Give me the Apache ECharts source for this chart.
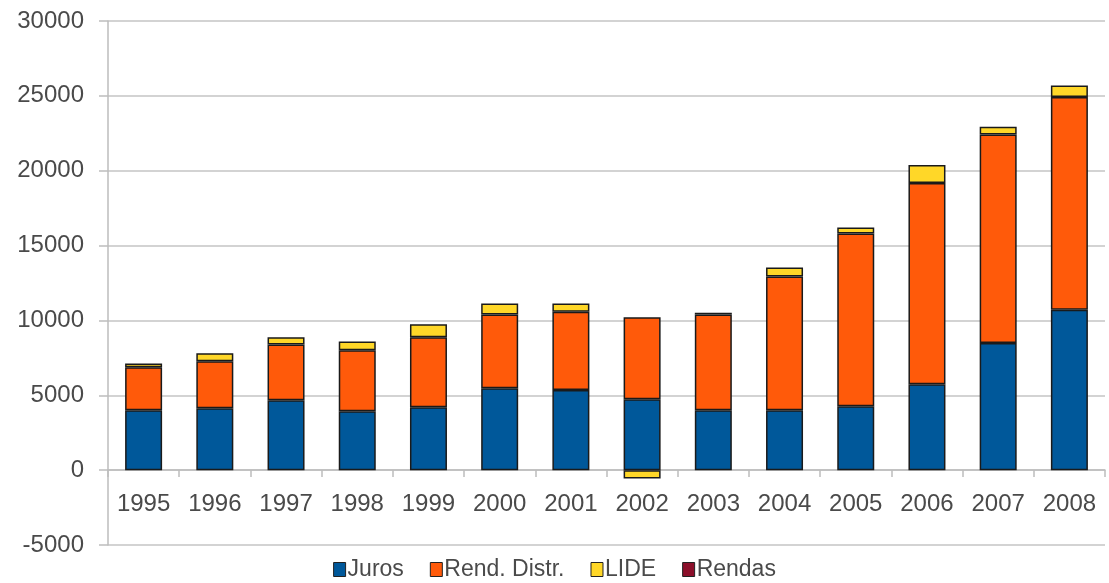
<!DOCTYPE html>
<html>
<head>
<meta charset="utf-8">
<script src="https://cdn.jsdelivr.net/npm/echarts@6/dist/echarts.min.js"></script>
<style>
  html, body { margin: 0; padding: 0; background: #fff; }
  #chart { width: 1109px; height: 583px; }
</style>
</head>
<body>
<div id="chart"></div>
<script>
// data
var years = ['1995','1996','1997','1998','1999','2000','2001','2002','2003','2004','2005','2006','2007','2008'];
var juros = [4000, 4130, 4670, 3930, 4200, 5470, 5350, 4730, 4000, 4000, 4270, 5730, 8490, 10710];
var rendDistr = [2870, 3140, 3730, 4070, 4670, 4930, 5230, 5490, 6400, 8930, 11530, 13450, 13930, 14220];
var lide = [260, 530, 470, 600, 870, 730, 550, -550, null, 600, 400, 1200, 510, 760];
var rendas = [null, null, null, null, null, null, null, null, 110, null, null, null, null, null];

var myChart = echarts.init(document.getElementById('chart'));

function barSeries (name, data, color) {
    return {
        name: name,
        type: 'bar',
        stack: 'total',
        barWidth: 37,
        data: data,
        itemStyle: {
            color: color,
            borderColor: '#1a1a1a',
            borderWidth: 1.5
        }
    };
}

var option = {
    animation: false,
    textStyle: { fontFamily: 'Liberation Sans, Arial, sans-serif' },
    color: ['#00589a', '#ff5a0a', '#ffd728', '#8b0f2a'],
    grid: { left: 108, right: 4, top: 21, bottom: 38, outerBoundsMode: 'none' },
    legend: {
        bottom: -3,
        left: 'center',
        itemWidth: 12,
        itemHeight: 14,
        itemGap: 26,
        icon: 'rect',
        textStyle: { fontSize: 23, color: '#4a4a4a', padding: [0, 0, 0, -3] },
        itemStyle: { borderColor: '#222', borderWidth: 1 },
        data: ['Juros', 'Rend. Distr.', 'LIDE', 'Rendas']
    },
    xAxis: {
        type: 'category',
        data: years,
        position: 'bottom',
        offset: -75,   // sits on the zero line
        axisLine: { onZero: false, lineStyle: { color: '#bdbdbd', width: 1.5 } },
        axisTick: { show: true, length: 7, lineStyle: { color: '#bdbdbd', width: 1.5 } },
        axisLabel: { fontSize: 24, color: '#4a4a4a', margin: 22 }
    },
    yAxis: {
        type: 'value',
        min: -5000,
        max: 30000,
        interval: 5000,
        axisLine: { show: true, lineStyle: { color: '#bdbdbd', width: 1.5 } },
        axisTick: { show: true, length: 9, lineStyle: { color: '#bdbdbd', width: 1.5 } },
        axisLabel: { fontSize: 24, color: '#4a4a4a', margin: 24, formatter: function (v) { return String(v); } },
        splitLine: { lineStyle: { color: '#c4c4c4', width: 1.5 } }
    },
    series: [
        barSeries('Juros', juros, '#00589a'),
        barSeries('Rend. Distr.', rendDistr, '#ff5a0a'),
        barSeries('LIDE', lide, '#ffd728'),
        barSeries('Rendas', rendas, '#8b0f2a')
    ]
};

myChart.setOption(option);
</script>
</body>
</html>
